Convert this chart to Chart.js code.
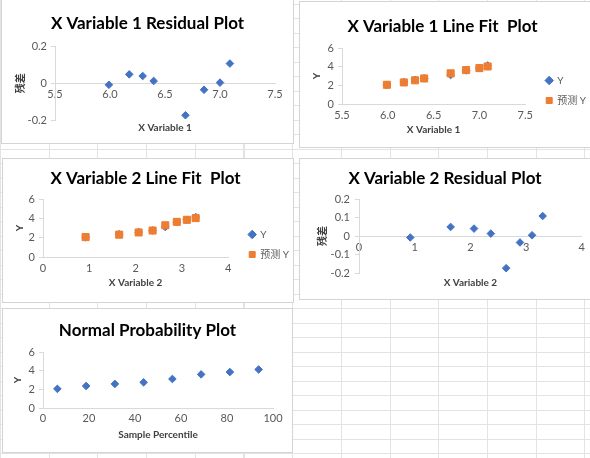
<!DOCTYPE html>
<html>
<head>
<meta charset="utf-8">
<script src="https://cdn.jsdelivr.net/npm/chart.js@4.4.1/dist/chart.umd.min.js"></script>
<style>
  html, body { margin: 0; padding: 0; }
  body {
    width: 590px; height: 458px; overflow: hidden; position: relative; background-color: #fff;
    background-image:
      repeating-linear-gradient(to right, #e3e3e3 0, #e3e3e3 1px, transparent 1px, transparent 48.7px),
      repeating-linear-gradient(to bottom, #e3e3e3 0, #e3e3e3 1px, transparent 1px, transparent 14.5px);
    background-position: 0 4px;
  }
  .box { position: absolute; border: 1px solid #d4d4d4; background: #fff; }
  .box canvas { display: block; }
</style>
</head>
<body>
<div class="box" style="left:1px;top:-1px"><canvas id="res1" width="291" height="143"></canvas></div>
<div class="box" style="left:299px;top:1px"><canvas id="fit1" width="290" height="145"></canvas></div>
<div class="box" style="left:2px;top:158px"><canvas id="fit2" width="290" height="143"></canvas></div>
<div class="box" style="left:299px;top:158px"><canvas id="res2" width="290" height="140"></canvas></div>
<div class="box" style="left:2px;top:308px"><canvas id="prob" width="289" height="143"></canvas></div>
<script>
// regression output (8 observations)
const x1Values = [5.99, 6.175, 6.297, 6.397, 6.686, 6.855, 7.0, 7.09];
const x2Values = [0.92, 1.645, 2.065, 2.367, 2.642, 2.89, 3.107, 3.297];
const yValues = [2.05, 2.36, 2.58, 2.75, 3.11, 3.6, 3.85, 4.13];
const predictedY = [2.058, 2.311, 2.54, 2.737, 3.284, 3.635, 3.846, 4.022];
const residuals = [-0.008, 0.049, 0.04, 0.013, -0.174, -0.035, 0.004, 0.108];
const percentiles = [6.25, 18.75, 31.25, 43.75, 56.25, 68.75, 81.25, 93.75];
const sortedY = [2.05, 2.36, 2.58, 2.75, 3.11, 3.6, 3.85, 4.13];

const seriesNames = ['Y', '预测 Y'];
const residualLabel = '残差';

Chart.defaults.font.family = "Lato, 'Noto Sans CJK SC', sans-serif";
Chart.defaults.color = '#595959';
Chart.defaults.animation = false;

const axisColor = '#d9d9d9';
const blue = '#4472c4';
const orange = '#ed7d31';

function points(xs, ys) {
    return xs.map((x, i) => ({ x: x, y: ys[i] }));
}

function blueSeries(label, xs, ys) {
    return { label: label, data: points(xs, ys), pointStyle: 'rectRot', pointRadius: 3.8,
        backgroundColor: blue, borderColor: blue, borderWidth: 1, order: 1 };
}

function orangeSeries(label, xs, ys) {
    return { label: label, data: points(xs, ys), pointStyle: 'rect', pointRadius: 5,
        backgroundColor: orange, borderColor: orange, borderWidth: 1, order: 0 };
}

function axis(o) {
    return {
        type: 'linear', min: o.min, max: o.max, position: o.position,
        ticks: { stepSize: o.step, padding: o.tickPad, autoSkip: false, maxRotation: 0, font: { size: 11 } },
        grid: { display: !!o.marks, drawOnChartArea: false, drawTicks: !!o.marks, tickLength: 4, color: axisColor },
        border: { display: true, color: axisColor },
        title: o.title ? { display: true, text: o.title, color: '#404040', font: { size: 10, weight: 'bold' },
            padding: o.titlePad } : { display: false },
        afterFit: o.fit
    };
}

// bottom axis that only carries the title (x axis itself sits on y = 0)
function titleAxis(text, height, pad) {
    return {
        type: 'linear', position: 'bottom',
        ticks: { display: false }, grid: { display: false }, border: { display: false },
        title: { display: true, text: text, color: '#404040', font: { size: 10, weight: 'bold' }, padding: { top: 0, bottom: pad } },
        afterFit: function (s) { s.height = height; }
    };
}

// empty right axis, keeps the plot narrower without moving the chart title
function spacerAxis(width) {
    return {
        type: 'linear', position: 'right',
        ticks: { display: false }, grid: { display: false }, border: { display: false },
        afterFit: function (s) { s.width = width; }
    };
}

// nudge the legend to where Excel puts it
function legendShift(dx, dy) {
    return {
        id: 'legendShift',
        afterLayout(chart) {
            const lg = chart.legend;
            if (!lg) return;
            lg.left += dx; lg.right += dx;
            lg.top += dy; lg.bottom += dy;
        }
    };
}

function createScatter(id, title, titlePad, datasets, scales, right, legend) {
    return new Chart(document.getElementById(id), {
        type: 'scatter',
        data: { datasets: datasets },
        options: {
            responsive: false,
            layout: { padding: { left: 0, top: 0, bottom: 0, right: right } },
            plugins: {
                title: { display: true, text: title, color: '#000', font: { size: 17, weight: 'bold', lineHeight: 1.2 },
                    padding: titlePad },
                legend: legend ? {
                    display: true, position: 'right',
                    labels: { usePointStyle: true, boxWidth: 6, boxHeight: 6, padding: 10, font: { size: 10 }, color: '#595959',
                        sort: (a, b) => a.datasetIndex - b.datasetIndex }
                } : { display: false },
                tooltip: { enabled: false }
            },
            scales: scales
        },
        plugins: legend ? [legendShift(legend.dx, legend.dy)] : []
    });
}

createScatter('res1', 'X Variable 1 Residual Plot', { top: 13, bottom: 13.3 },
    [blueSeries(residualLabel, x1Values, residuals)],
    {
        x: axis({ min: 5.5, max: 7.5, step: 0.5, position: { y: 0 }, tickPad: 5 }),
        xt: titleAxis('X Variable 1', 23, 9),
        y: axis({ min: -0.2, max: 0.2, step: 0.2, position: 'left', marks: true, tickPad: 4,
            title: residualLabel, titlePad: { top: 13, bottom: 0 }, fit: s => { s.width = 53; } }),
        yr: spacerAxis(18)
    }, 0, null);

createScatter('fit1', 'X Variable 1 Line Fit  Plot', { top: 14, bottom: 11.6 },
    [blueSeries(seriesNames[0], x1Values, yValues), orangeSeries(seriesNames[1], x1Values, predictedY)],
    {
        x: axis({ min: 5.5, max: 7.5, step: 0.5, position: 'bottom', tickPad: 5,
            title: 'X Variable 1', titlePad: { top: 0, bottom: 11 }, fit: s => { s.height = 43; } }),
        y: axis({ min: 0, max: 6, step: 2, position: 'left', marks: true, tickPad: 4,
            title: 'Y', titlePad: { top: 11, bottom: 0 }, fit: s => { s.width = 42; } })
    }, 5, { dx: 11, dy: 16 });

createScatter('fit2', 'X Variable 2 Line Fit  Plot', { top: 9, bottom: 10.6 },
    [blueSeries(seriesNames[0], x2Values, yValues), orangeSeries(seriesNames[1], x2Values, predictedY)],
    {
        x: axis({ min: 0, max: 4, step: 1, position: 'bottom', tickPad: 5,
            title: 'X Variable 2', titlePad: { top: 0, bottom: 13 }, fit: s => { s.height = 45; } }),
        y: axis({ min: 0, max: 6, step: 2, position: 'left', marks: true, tickPad: 4,
            title: 'Y', titlePad: { top: 11, bottom: 0 }, fit: s => { s.width = 40; } })
    }, 5, { dx: 11, dy: 14 });

createScatter('res2', 'X Variable 2 Residual Plot', { top: 9, bottom: 10.6 },
    [blueSeries(residualLabel, x2Values, residuals)],
    {
        x: axis({ min: 0, max: 4, step: 1, position: { y: 0 }, tickPad: 5 }),
        xt: titleAxis('X Variable 2', 26, 10),
        y: axis({ min: -0.2, max: 0.2, step: 0.1, position: 'left', marks: true, tickPad: 5,
            title: residualLabel, titlePad: { top: 17, bottom: 0 }, fit: s => { s.width = 59; } }),
        yr: spacerAxis(8)
    }, 0, null);

createScatter('prob', 'Normal Probability Plot', { top: 11, bottom: 11.6 },
    [blueSeries('Y', percentiles, sortedY)],
    {
        x: axis({ min: 0, max: 100, step: 20, position: 'bottom', tickPad: 4,
            title: 'Sample Percentile', titlePad: { top: 0, bottom: 11 }, fit: s => { s.height = 44; } }),
        y: axis({ min: 0, max: 6, step: 2, position: 'left', marks: true, tickPad: 4,
            title: 'Y', titlePad: { top: 9, bottom: 0 }, fit: s => { s.width = 40; } }),
        yr: spacerAxis(19)
    }, 0, null);
</script>
</body>
</html>
